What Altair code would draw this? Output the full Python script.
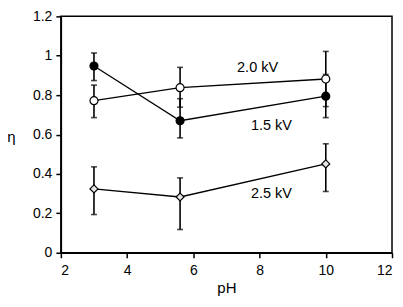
import altair as alt
import pandas as pd

ph = [3, 5.6, 10]
series_names = ["1.5 kV", "2.0 kV", "2.5 kV"]
eta_15 = [0.948, 0.670, 0.795]
lo_15 = [0.874, 0.583, 0.686]
hi_15 = [1.014, 0.782, 0.905]
eta_20 = [0.772, 0.838, 0.882]
lo_20 = [0.686, 0.739, 0.742]
hi_20 = [0.851, 0.941, 1.022]
eta_25 = [0.324, 0.283, 0.451]
lo_25 = [0.194, 0.118, 0.311]
hi_25 = [0.436, 0.380, 0.553]

label_text = ["2.0 kV", "1.5 kV", "2.5 kV"]
label_x = [7.94, 8.36, 8.36]
label_y = [0.938, 0.642, 0.296]

rows = []
for name, eta, lo, hi in [("1.5 kV", eta_15, lo_15, hi_15),
                          ("2.0 kV", eta_20, lo_20, hi_20),
                          ("2.5 kV", eta_25, lo_25, hi_25)]:
    for x, e, l, h in zip(ph, eta, lo, hi):
        rows.append({"series": name, "pH": x, "eta": e, "lo": l, "hi": h})
df = pd.DataFrame(rows)
labels = pd.DataFrame({"text": label_text, "x": label_x, "y": label_y})

xs = alt.Scale(domain=[2, 12], nice=False, zero=False)
ys = alt.Scale(domain=[0, 1.2], nice=False)
xaxis = alt.Axis(values=[2, 4, 6, 8, 10, 12], grid=False, labelPadding=6, titlePadding=3,
                 labelOverlap=False, title="pH")
yaxis = alt.Axis(values=[0, 0.2, 0.4, 0.6, 0.8, 1.0, 1.2], format="~g", grid=False, labelPadding=4,
                 labelOverlap=False, title="η",
                 titleAngle=0, titleAlign="center", titleBaseline="middle", titleX=-50, titleY=120)


def X(f):
    return alt.X(f, scale=xs, axis=xaxis)


def Y(f):
    return alt.Y(f, scale=ys, axis=yaxis)


base = alt.Chart(df)
rules = base.mark_rule(color="black", strokeWidth=1.6).encode(
    x=X("pH:Q"), y=Y("lo:Q"), y2="hi:Q")
cap_lo = base.mark_tick(color="black", orient="horizontal", size=6, thickness=1.6).encode(
    x=X("pH:Q"), y=Y("lo:Q"))
cap_hi = base.mark_tick(color="black", orient="horizontal", size=6, thickness=1.6).encode(
    x=X("pH:Q"), y=Y("hi:Q"))
lines = base.mark_line(color="black", strokeWidth=1.3).encode(
    x=X("pH:Q"), y=Y("eta:Q"), detail="series:N")
points = base.mark_point(filled=True, stroke="black", strokeWidth=1.2, opacity=1).encode(
    x=X("pH:Q"), y=Y("eta:Q"),
    shape=alt.Shape("series:N", scale=alt.Scale(domain=series_names, range=["circle", "circle", "diamond"]), legend=None),
    fill=alt.Fill("series:N", scale=alt.Scale(domain=series_names, range=["black", "white", "#e6e6e6"]), legend=None),
    size=alt.Size("series:N", scale=alt.Scale(domain=series_names, range=[64, 64, 80]), legend=None),
)
text = alt.Chart(labels).mark_text(font="Liberation Sans", fontSize=14.5, color="black").encode(
    x=X("x:Q"), y=Y("y:Q"), text="text:N")

chart = alt.layer(lines, rules, cap_lo, cap_hi, points, text).properties(
    width=332, height=237,
    autosize=alt.AutoSizeParams(type="none"),
    padding={"left": 53, "top": 8, "right": 3, "bottom": 46},
).configure_view(stroke="black", strokeWidth=1.5).configure_axis(
    domainColor="black", domainWidth=1.5, tickColor="black", tickWidth=1.5, tickSize=5,
    labelFont="Liberation Sans", labelFontSize=14, labelColor="black", labelOverlap=False,
    titleFont="Liberation Sans", titleFontSize=15, titleColor="black", titleFontWeight="normal",
)

chart.save("out.html", embed_options={"renderer": "svg", "actions": False})
